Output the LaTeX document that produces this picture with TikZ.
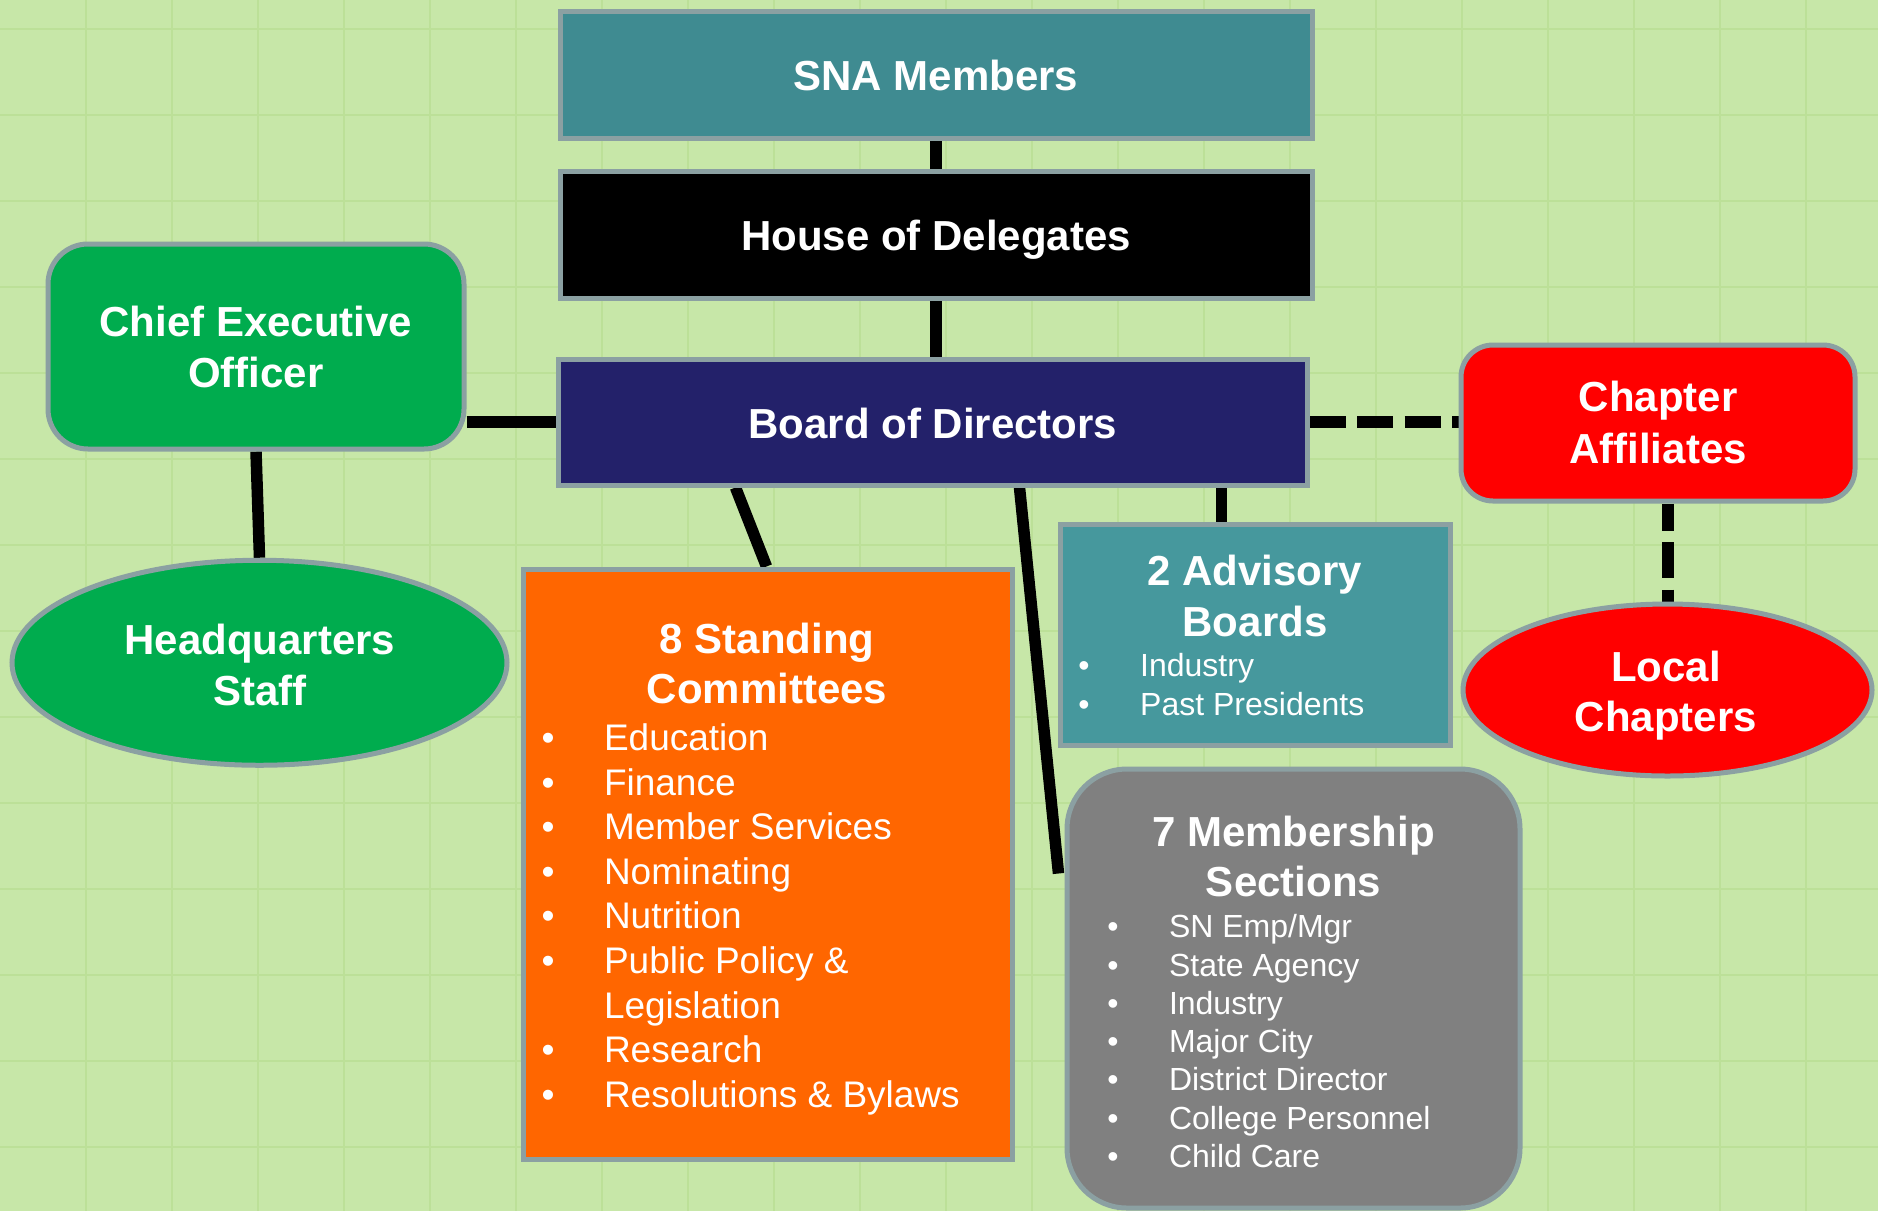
\documentclass[tikz,border=0pt]{standalone}
\usepackage{fontspec}
\setmainfont{Liberation Sans}
\usetikzlibrary{shapes.geometric,calc}
\definecolor{bgc}{RGB}{199,231,168}
\definecolor{gridc}{RGB}{188,224,152}
\definecolor{bordc}{RGB}{139,160,162}
\definecolor{snac}{RGB}{63,139,145}
\definecolor{bodc}{RGB}{35,33,106}
\definecolor{grn}{RGB}{0,172,78}
\definecolor{orng}{RGB}{255,102,0}
\definecolor{advc}{RGB}{70,152,157}
\definecolor{msc}{RGB}{128,128,128}
\pgfdeclarelayer{bglayer}
\pgfdeclarelayer{linelayer}
\pgfsetlayers{bglayer,linelayer,main}
\begin{document}
\begin{tikzpicture}[x=0.5pt,y=-0.5pt,
  shp/.style={draw=bordc,line width=2.5pt,inner sep=0pt},
  rbox/.style={shp,rectangle},
  conn/.style={line width=5.75pt,black},
  dconn/.style={line width=6pt,black,dash pattern=on 18pt off 5.8pt},
  ttl/.style={text=white,font=\bfseries\fontsize{21}{25}\selectfont,anchor=base,inner sep=0pt},
  itmA/.style={text=white,font=\fontsize{18.5}{22}\selectfont,anchor=base west,inner sep=0pt},
  bulA/.style={text=white,font=\fontsize{18.5}{22}\selectfont,anchor=base,inner sep=0pt},
  itmB/.style={text=white,font=\fontsize{16}{19}\selectfont,anchor=base west,inner sep=0pt},
  bulB/.style={text=white,font=\fontsize{16}{19}\selectfont,anchor=base,inner sep=0pt}
]
\useasboundingbox (0,0) rectangle (1878,1211);
\begin{pgfonlayer}{bglayer}
  \fill[bgc] (0,0) rectangle (1878,1211);
  \foreach \gx in {86,172,...,1806} \draw[gridc,line width=0.6pt] (\gx,0) -- (\gx,1211);
  \foreach \gy in {29,115,...,1200} \draw[gridc,line width=0.6pt] (0,\gy) -- (1878,\gy);
\end{pgfonlayer}

% top column
\node[rbox,fill=snac,minimum width=376pt,minimum height=63.5pt] (sna) at (936,74.5) {};
\node[ttl] (snat) at (936,90.7) {SNA Members};
\node[rbox,fill=black,minimum width=376pt,minimum height=63.5pt] (hod) at (936,234.5) {};
\node[ttl] (hodt) at (936,250) {House of Delegates};
\node[rbox,fill=bodc,minimum width=374.5pt,minimum height=63pt] (bod) at (932.5,422) {};
\node[ttl] (bodt) at (933,438.5) {Board of Directors};

% CEO and HQ
\node[rbox,rounded corners=20pt,fill=grn,minimum width=208pt,minimum height=102.5pt] (ceo) at (256,346.5) {};
\node[ttl] (ceot1) at (256,336.4) {Chief Executive};
\node[ttl] (ceot2) at (256,387) {Officer};
\node[shp,ellipse,fill=grn,minimum width=247.5pt,minimum height=102.5pt] (hq) at (259.5,662.75) {};
\node[ttl] (hqt1) at (260,654) {Headquarters};
\node[ttl] (hqt2) at (260,705) {Staff};

% Standing committees
\node[rbox,fill=orng,minimum width=244.5pt,minimum height=295pt] (sc) at (767.5,864) {};
\node[ttl] (sct1) at (767,653.6) {8 Standing};
\node[ttl] (sct2) at (767,703.4) {Committees};
\foreach \t/\k/\b [count=\i] in {Education/0/1,Finance/1/1,Member Services/2/1,Nominating/3/1,Nutrition/4/1,Public Policy \&/5/1,Legislation/6/0,Research/7/1,Resolutions \& Bylaws/8/1}{
  \node[itmA] (sci\i) at (603.6,750.5+44.6*\k) {\t};
  \ifnum\b=1 \node[bulA] (scb\i) at (548,750.5+44.6*\k) {\textbullet}; \fi
}

% Advisory boards
\node[rbox,fill=advc,minimum width=195pt,minimum height=110.5pt] (adv) at (1255,634.5) {};
\node[ttl] (advt1) at (1255,585) {2 Advisory};
\node[ttl] (advt2) at (1255,636.7) {Boards};
\foreach \t/\k [count=\i] in {Industry/0,Past Presidents/1}{
  \node[itmB] (advi\i) at (1139.8,676.7+39*\k) {\t};
  \node[bulB] (advb\i) at (1084,676.7+39*\k) {\textbullet};
}

% Chapters
\node[rbox,rounded corners=16pt,fill=red,minimum width=197pt,minimum height=78pt] (cha) at (1658,423) {};
\node[ttl] (chat1) at (1658,411.7) {Chapter};
\node[ttl] (chat2) at (1658,463.3) {Affiliates};
\node[shp,ellipse,fill=red,minimum width=204.5pt,minimum height=86pt] (loc) at (1667.5,690) {};
\node[ttl] (loct1) at (1666,681.7) {Local};
\node[ttl] (loct2) at (1666,731.7) {Chapters};

% Membership sections
\node[rbox,rounded corners=30pt,fill=msc,minimum width=226.5pt,minimum height=219.5pt] (ms) at (1293.5,988.5) {};
\node[ttl] (mst1) at (1293.5,846.7) {7 Membership};
\node[ttl] (mst2) at (1293.5,896.7) {Sections};
\foreach \t/\k [count=\i] in {{SN Emp/Mgr}/0,State Agency/1,Industry/2,Major City/3,District Director/4,College Personnel/5,Child Care/6}{
  \node[itmB] (msi\i) at (1168.6,937.7+38.3*\k) {\t};
  \node[bulB] (msb\i) at (1113,937.7+38.3*\k) {\textbullet};
}

\coordinate (msend) at (1058.5,873.5);

% connectors
\begin{pgfonlayer}{linelayer}
  \draw[conn] (sna.south) -- (hod.north);
  \draw[conn] (hod.south) -- (hod.south |- bod.north);
  \draw[conn] (ceo.east |- bod.west) -- (bod.west);
  \draw[conn] (ceo.south) -- (hq.north);
  \draw[conn] ($(bod.south)+(-197,0)$) -- ($(sc.north)+(-1,0)$);
  \draw[conn] ($(bod.south)+(87,0)$) -- (msend);
  \draw[conn] ($(bod.south)+(289,0)$) coordinate (a1) -- (a1 |- adv.north);
  \draw[dconn] (bod.east) -- (bod.east -| cha.west);
  \draw[dconn,dash phase=4.5pt] (loc.north |- cha.south) -- (loc.north);
\end{pgfonlayer}
\end{tikzpicture}
\end{document}
